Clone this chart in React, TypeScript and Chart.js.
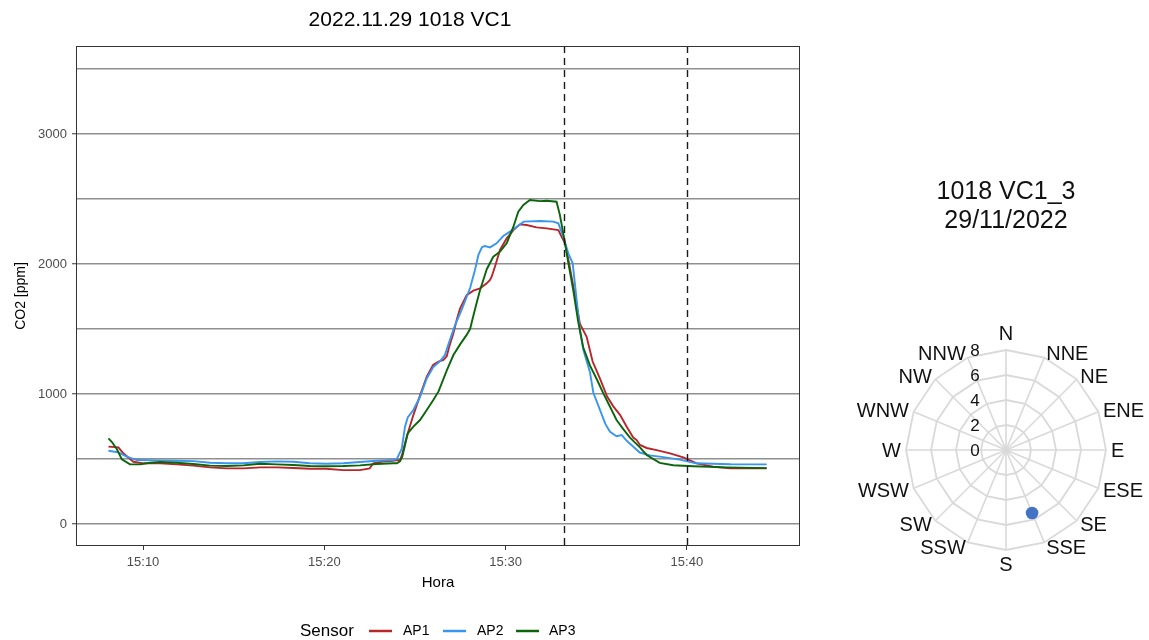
import React, { useEffect, useRef } from 'react';
import { Chart, registerables } from 'chart.js';

Chart.register(...registerables);

const FONT = '"Liberation Sans", Arial, Helvetica, sans-serif';

// ---- Left chart: text ----
const CHART_TITLE = '2022.11.29 1018 VC1';
const X_TITLE = 'Hora';
const Y_TITLE = 'CO2 [ppm]';
const LEGEND_TITLE = 'Sensor';
const SERIES_NAMES = ['AP1', 'AP2', 'AP3'];
const SERIES_COLORS = ['#B8252B', '#3896EE', '#0B650B'];

// ---- Left chart: axes (minutes after 15:00) ----
const X_MIN = 6.3;
const X_MAX = 46.24;
const X_TICKS = [10, 20, 30, 40];
const X_TICK_LABELS = ['15:10', '15:20', '15:30', '15:40'];
const Y_MIN = -169;
const Y_MAX = 3677;
const Y_GRID = [0, 500, 1000, 1500, 2000, 2500, 3000, 3500];
const Y_LABELED = [0, 1000, 2000, 3000];
const MARKERS = [33.22, 40];

// ---- Left chart: series ----
const timeAP1 = [8.09, 8.64, 8.91, 9.47, 10.02, 10.94, 11.86, 12.78, 13.7, 14.62, 15.54, 16.46, 17.38, 18.3, 19.2, 20.1, 21.04, 21.96, 22.5, 22.7, 23.2, 23.8, 24.0, 24.18, 24.3, 24.54, 24.91, 25.28, 25.65, 26.0, 26.3, 26.57, 26.75, 26.9, 27.12, 27.3, 27.48, 27.85, 28.22, 28.59, 28.96, 29.14, 29.23, 29.41, 29.69, 30.06, 30.43, 30.79, 31.16, 31.71, 32.26, 32.91, 33.09, 33.28, 33.5, 33.8, 34.1, 34.47, 34.8, 35.2, 35.6, 35.94, 36.31, 36.68, 37.04, 37.23, 37.41, 37.78, 38.33, 39.07, 39.8, 40.54, 41.45, 42.4, 44.4];
const co2AP1 = [595, 590, 544, 479, 467, 467, 459, 449, 436, 428, 428, 436, 436, 431, 425, 425, 415, 415, 428, 467, 480, 487, 492, 490, 540, 670, 838, 990, 1133, 1223, 1249, 1262, 1290, 1370, 1467, 1570, 1655, 1760, 1795, 1813, 1851, 1877, 1902, 1979, 2108, 2197, 2261, 2305, 2300, 2282, 2274, 2261, 2210, 2160, 2005, 1780, 1540, 1440, 1250, 1120, 980, 905, 840, 749, 665, 646, 608, 585, 569, 544, 513, 467, 441, 428, 428];

const timeAP2 = [8.09, 8.64, 9.1, 9.65, 10.94, 11.86, 12.78, 13.7, 14.62, 15.54, 16.46, 17.38, 18.3, 19.2, 20.1, 21.04, 21.96, 22.88, 23.8, 24.0, 24.27, 24.45, 24.6, 24.91, 25.28, 25.65, 26.0, 26.4, 26.65, 26.84, 27.21, 27.58, 28.04, 28.31, 28.5, 28.7, 28.86, 29.14, 29.5, 29.87, 30.24, 30.61, 31.0, 31.9, 32.63, 32.91, 33.18, 33.46, 33.7, 33.92, 34.1, 34.29, 34.65, 34.84, 35.2, 35.5, 35.76, 36.12, 36.4, 36.68, 37.0, 37.4, 37.96, 38.7, 39.6, 40.5, 42.4, 44.4];
const co2AP2 = [564, 551, 518, 492, 490, 487, 484, 471, 467, 467, 477, 482, 479, 467, 464, 467, 477, 487, 492, 500, 580, 749, 820, 877, 979, 1120, 1205, 1255, 1300, 1380, 1530, 1650, 1815, 1954, 2070, 2130, 2138, 2128, 2159, 2215, 2249, 2287, 2326, 2331, 2326, 2313, 2210, 2082, 2005, 1723, 1492, 1338, 1170, 1010, 880, 770, 710, 675, 685, 640, 600, 550, 528, 515, 495, 467, 460, 459];

const timeAP3 = [8.09, 8.27, 8.55, 8.83, 9.28, 9.83, 10.39, 10.94, 11.86, 12.78, 13.7, 14.62, 15.54, 16.46, 17.38, 18.3, 19.2, 20.1, 21.04, 21.96, 22.88, 23.8, 24.0, 24.17, 24.3, 24.6, 24.91, 25.28, 25.65, 26.01, 26.3, 26.75, 27.12, 27.48, 27.85, 28.04, 28.2, 28.4, 28.59, 28.77, 28.96, 29.32, 29.69, 30.06, 30.43, 30.7, 30.98, 31.34, 31.9, 32.26, 32.81, 32.99, 33.18, 33.46, 33.73, 34.0, 34.28, 34.65, 35.05, 35.39, 35.76, 36.12, 36.49, 36.86, 37.41, 37.78, 38.5, 39.25, 40.35, 42.19, 44.4];
const co2AP3 = [659, 633, 577, 497, 459, 459, 471, 477, 471, 462, 449, 446, 451, 464, 459, 454, 446, 444, 446, 451, 462, 467, 467, 482, 518, 697, 749, 800, 877, 954, 1020, 1180, 1300, 1380, 1455, 1500, 1590, 1700, 1800, 1877, 1960, 2056, 2095, 2159, 2287, 2402, 2454, 2492, 2484, 2487, 2479, 2380, 2236, 2010, 1800, 1560, 1360, 1220, 1108, 1005, 902, 800, 730, 665, 590, 531, 470, 452, 445, 436, 430];

// ---- Right chart ----
const RADAR_TITLE = ['1018 VC1_3', '29/11/2022'];
const DIRECTIONS = ['N', 'NNE', 'NE', 'ENE', 'E', 'ESE', 'SE', 'SSE', 'S', 'SSW', 'SW', 'WSW', 'W', 'WNW', 'NW', 'NNW'];
const WIND_VALUES = [null, null, null, null, null, null, null, 5.45, null, null, null, null, null, null, null, null];
const R_TICKS = [0, 2, 4, 6, 8];
const DOT_COLOR = '#4472C4';

const leftDecor = {
  id: 'leftDecor',
  afterDatasetsDraw(chart: any) {
    const { ctx, chartArea: a, scales } = chart;
    const x = scales.x;
    ctx.save();
    ctx.setLineDash([7, 5]);
    ctx.strokeStyle = '#1a1a1a';
    ctx.lineWidth = 1.4;
    MARKERS.forEach((m) => {
      const px = Math.round(x.getPixelForValue(m)) + 0.5;
      ctx.beginPath();
      ctx.moveTo(px, a.top);
      ctx.lineTo(px, a.bottom);
      ctx.stroke();
    });
    ctx.setLineDash([]);
    ctx.strokeStyle = '#333333';
    ctx.lineWidth = 1;
    ctx.strokeRect(a.left + 0.5, a.top + 0.5, a.right - a.left - 1, a.bottom - a.top - 1);
    ctx.restore();
  },
  afterDraw(chart: any) {
    const { ctx, chartArea: a } = chart;
    const cx = (a.left + a.right) / 2;
    ctx.save();
    ctx.fillStyle = '#000';
    ctx.textAlign = 'center';
    ctx.textBaseline = 'alphabetic';
    ctx.font = `21px ${FONT}`;
    ctx.fillText(CHART_TITLE, 410, 26);
    ctx.font = `15px ${FONT}`;
    ctx.fillText(X_TITLE, cx, 587);
    ctx.save();
    ctx.translate(25, (a.top + a.bottom) / 2);
    ctx.rotate(-Math.PI / 2);
    ctx.font = `14px ${FONT}`;
    ctx.fillText(Y_TITLE, 0, 0);
    ctx.restore();
    // legend
    const ly = 631;
    ctx.textAlign = 'left';
    ctx.textBaseline = 'middle';
    ctx.font = `17px ${FONT}`;
    ctx.fillText(LEGEND_TITLE, 300, ly);
    const lineX = [369, 443, 516];
    const textX = [403, 477, 549];
    ctx.font = `14px ${FONT}`;
    SERIES_NAMES.forEach((n, i) => {
      ctx.strokeStyle = SERIES_COLORS[i];
      ctx.lineWidth = 2.5;
      ctx.beginPath();
      ctx.moveTo(lineX[i], ly);
      ctx.lineTo(lineX[i] + 23, ly);
      ctx.stroke();
      ctx.fillText(n, textX[i], ly);
    });
    ctx.restore();
  },
};

const radarDecor = {
  id: 'radarDecor',
  afterDraw(chart: any) {
    const { ctx } = chart;
    const s = chart.scales.r;
    const cx = s.xCenter;
    const cy = s.yCenter;
    ctx.save();
    ctx.fillStyle = '#111';
    ctx.textAlign = 'center';
    ctx.textBaseline = 'alphabetic';
    ctx.font = `25px ${FONT}`;
    ctx.fillText(RADAR_TITLE[0], 176, 199);
    ctx.fillText(RADAR_TITLE[1], 176, 228);

    ctx.font = `20px ${FONT}`;
    const cap = 14.3;
    const n = DIRECTIONS.length;
    DIRECTIONS.forEach((lab, i) => {
      const ang = (i * 2 * Math.PI) / n;
      const sn = Math.sin(ang);
      const cs = Math.cos(ang);
      const d = 105;
      if (i === 0) {
        ctx.textAlign = 'center';
        ctx.fillText(lab, cx, cy - 110);
      } else if (i === n / 2) {
        ctx.textAlign = 'center';
        ctx.fillText(lab, cx, cy + 107 + cap);
      } else {
        ctx.textAlign = sn > 0 ? 'left' : 'right';
        ctx.fillText(lab, cx + d * sn, cy - d * cs + cap / 2);
      }
    });

    ctx.font = `17px ${FONT}`;
    ctx.textAlign = 'center';
    ctx.textBaseline = 'middle';
    R_TICKS.forEach((v) => {
      const r = s.getDistanceFromCenterForValue(v);
      ctx.fillText(String(v), cx - 31, cy - r + 1);
    });
    ctx.restore();
  },
};

export default function App() {
  const leftRef = useRef<HTMLCanvasElement>(null);
  const rightRef = useRef<HTMLCanvasElement>(null);

  useEffect(() => {
    const series = [
      { t: timeAP1, v: co2AP1 },
      { t: timeAP2, v: co2AP2 },
      { t: timeAP3, v: co2AP3 },
    ];
    const left = new Chart(leftRef.current as HTMLCanvasElement, {
      type: 'line',
      data: {
        datasets: series.map((s, i) => ({
          label: SERIES_NAMES[i],
          data: s.t.map((t, j) => ({ x: t, y: s.v[j] })),
          borderColor: SERIES_COLORS[i],
          backgroundColor: SERIES_COLORS[i],
          borderWidth: 1.9,
          pointRadius: 0,
          tension: 0,
          fill: false,
          order: 2 - i,
        })),
      },
      options: {
        responsive: false,
        animation: false,
        layout: { padding: { top: 46, right: 30, bottom: 0, left: 0 } },
        plugins: { legend: { display: false }, title: { display: false }, tooltip: { enabled: false } },
        scales: {
          x: {
            type: 'linear',
            min: X_MIN,
            max: X_MAX,
            afterBuildTicks: (sc: any) => {
              sc.ticks = X_TICKS.map((v) => ({ value: v }));
            },
            afterFit: (sc: any) => {
              sc.height = 94;
            },
            ticks: {
              autoSkip: false,
              maxRotation: 0,
              padding: 5,
              color: '#4d4d4d',
              font: { family: FONT, size: 13 },
              callback: (v: any) => {
                const k = X_TICKS.indexOf(Number(v));
                return k >= 0 ? X_TICK_LABELS[k] : '';
              },
            },
            grid: { drawOnChartArea: false, drawTicks: true, tickLength: 4, tickColor: '#333333', tickWidth: 1 },
            border: { display: false },
          },
          y: {
            type: 'linear',
            min: Y_MIN,
            max: Y_MAX,
            afterBuildTicks: (sc: any) => {
              sc.ticks = Y_GRID.map((v) => ({ value: v }));
            },
            afterFit: (sc: any) => {
              sc.width = 76;
            },
            ticks: {
              autoSkip: false,
              padding: 5,
              color: '#4d4d4d',
              font: { family: FONT, size: 13 },
              callback: (v: any) => (Y_LABELED.includes(Number(v)) ? String(v) : ''),
            },
            grid: {
              color: '#8f8f8f',
              lineWidth: 1.5,
              drawTicks: true,
              tickLength: 4,
              tickWidth: 1,
              tickColor: (c: any) => (c.tick && Y_LABELED.includes(c.tick.value) ? '#333333' : 'rgba(0,0,0,0)'),
            },
            border: { display: false },
          },
        },
      },
      plugins: [leftDecor],
    } as any);

    const right = new Chart(rightRef.current as HTMLCanvasElement, {
      type: 'radar',
      data: {
        labels: DIRECTIONS,
        datasets: [
          {
            label: 'wind',
            data: WIND_VALUES,
            showLine: false,
            pointRadius: 6.3,
            pointBackgroundColor: DOT_COLOR,
            pointBorderWidth: 0,
            borderColor: DOT_COLOR,
            backgroundColor: DOT_COLOR,
            fill: false,
          },
        ],
      },
      options: {
        responsive: false,
        animation: false,
        layout: { padding: { left: 76, right: 43, top: 350, bottom: 90 } },
        plugins: { legend: { display: false }, title: { display: false }, tooltip: { enabled: false } },
        scales: {
          r: {
            min: 0,
            max: 8,
            ticks: { display: false, stepSize: 2 },
            grid: { color: '#d9d9d9', lineWidth: 1.8 },
            angleLines: { display: true, color: '#d9d9d9', lineWidth: 1.6 },
            pointLabels: { display: false },
          },
        },
      },
      plugins: [radarDecor],
    } as any);

    return () => {
      left.destroy();
      right.destroy();
    };
  }, []);

  return (
    <div style={{ position: 'absolute', left: 0, top: 0, width: 1149, height: 640, background: '#ffffff', overflow: 'hidden' }}>
      <canvas ref={leftRef} width={830} height={640} style={{ position: 'absolute', left: 0, top: 0, width: 830, height: 640 }} />
      <canvas ref={rightRef} width={319} height={640} style={{ position: 'absolute', left: 830, top: 0, width: 319, height: 640 }} />
    </div>
  );
}
